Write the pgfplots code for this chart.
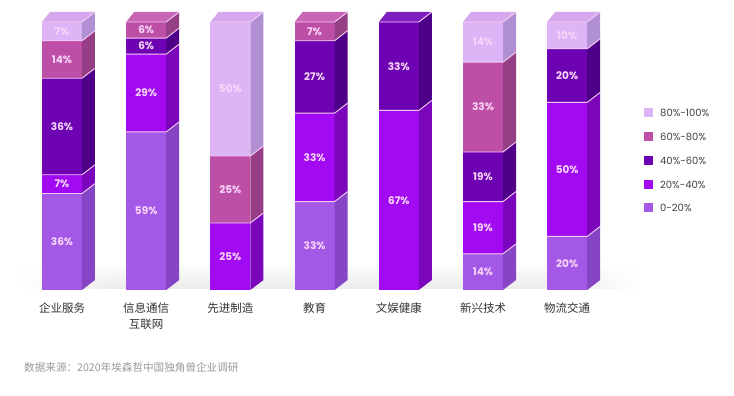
\documentclass[border=0pt]{standalone}
\usepackage{fontspec}
\setmainfont{Poppins}
\newfontfamily\cjk{Noto Sans CJK SC}
\usepackage{pgfplots}
\pgfplotsset{compat=1.18}
\usetikzlibrary{fadings}
\definecolor{F1}{HTML}{A458E6}\definecolor{S1}{HTML}{8645C4}\definecolor{T1}{HTML}{B77AEE}
\definecolor{F2}{HTML}{A10AF2}\definecolor{S2}{HTML}{7B05BA}\definecolor{T2}{HTML}{B540F5}
\definecolor{F3}{HTML}{6E03B3}\definecolor{S3}{HTML}{4F0088}\definecolor{T3}{HTML}{7F1EC0}
\definecolor{F4}{HTML}{BE4FA6}\definecolor{S4}{HTML}{963F86}\definecolor{T4}{HTML}{C865B4}
\definecolor{F5}{HTML}{DDB4F6}\definecolor{S5}{HTML}{B08FD2}\definecolor{T5}{HTML}{D6A8EE}
\definecolor{sepc}{HTML}{F6CDF2}
\definecolor{labc}{HTML}{F8D6F8}
\tikzset{
  lab/.style={font=\bfseries\fontsize{10.5}{11}\selectfont, text=labc, inner sep=0pt},
  catlab/.style={anchor=north, yshift=-13pt, font=\cjk\fontsize{11.5}{16}\selectfont, text=black!80, align=center, inner sep=0pt},
}
\def\hw{0.2375}
\def\dx{0.1544}
\def\dxl{0.095}
\def\dy{3.73}
% segment: center, y0, y1, label, colour key
\newcommand\seg[5]{%
  \pgfmathsetmacro\xl{#1-\hw}%
  \pgfmathsetmacro\xr{#1+\hw}%
  \pgfmathsetmacro\xb{#1+\hw+\dx}%
  \pgfmathsetmacro\ya{#2+\dy}%
  \pgfmathsetmacro\yb{#3+\dy}%
  \pgfmathsetmacro\ym{(#2+#3)/2}%
  \edef\tmp{%
    \noexpand\addplot[fill=F#5, draw=none] coordinates {(\xl,#2) (\xr,#2) (\xr,#3) (\xl,#3)} -- cycle;
    \noexpand\addplot[fill=S#5, draw=none] coordinates {(\xr,#2) (\xb,\ya) (\xb,\yb) (\xr,#3)} -- cycle;
    \noexpand\node[lab] at (axis cs:#1,\ym) {#4\noexpand\%};
  }\tmp}
% top cap: center, top, colour key
\newcommand\capp[3]{%
  \pgfmathsetmacro\xl{#1-\hw}%
  \pgfmathsetmacro\xr{#1+\hw}%
  \pgfmathsetmacro\xb{#1+\hw+\dx}%
  \pgfmathsetmacro\xc{#1-\hw+\dxl}%
  \pgfmathsetmacro\ya{#2+\dy}%
  \edef\tmp{%
    \noexpand\addplot[fill=T#3, draw=none] coordinates {(\xl,#2) (\xr,#2) (\xb,\ya) (\xc,\ya)} -- cycle;
  }\tmp}
% separator line: center, y
\newcommand\sepl[2]{%
  \pgfmathsetmacro\xl{#1-\hw}%
  \pgfmathsetmacro\xr{#1+\hw}%
  \pgfmathsetmacro\xb{#1+\hw+\dx}%
  \pgfmathsetmacro\ya{#2+\dy}%
  \edef\tmp{%
    \noexpand\addplot[sepc, line width=0.9pt] coordinates {(\xl,#2) (\xr,#2) (\xb,\ya)};
  }\tmp}
\begin{document}
\begin{tikzpicture}[x=1pt,y=1pt]
\fill[white] (0,0) rectangle (734,396);
\useasboundingbox (0,0) rectangle (734,396);
\shade[top color=white, bottom color=black!8, path fading=west] (18,107) rectangle (120,134);
\shade[top color=white, bottom color=black!8] (120,107) rectangle (560,134);
\shade[top color=white, bottom color=black!8, path fading=east] (560,107) rectangle (640,134);
\begin{axis}[
  at={(19.9pt,106pt)}, anchor=south west,
  scale only axis, width=673.6pt, height=294.8pt,
  xmin=-0.5, xmax=7.5, ymin=0, ymax=110,
  hide axis, clip=false,
]
% 企业服务
\seg{0}{0}{36}{36}{1}
\seg{0}{36}{43}{7}{2}
\seg{0}{43}{79}{36}{3}
\seg{0}{79}{93}{14}{4}
\seg{0}{93}{100}{7}{5}
\capp{0}{100}{5}
\sepl{0}{36}\sepl{0}{43}\sepl{0}{79}\sepl{0}{93}\sepl{0}{100}
% 信息通信互联网
\seg{1}{0}{59}{59}{1}
\seg{1}{59}{88}{29}{2}
\seg{1}{88}{94}{6}{3}
\seg{1}{94}{100}{6}{4}
\capp{1}{100}{4}
\sepl{1}{59}\sepl{1}{88}\sepl{1}{94}\sepl{1}{100}
% 先进制造
\seg{2}{0}{25}{25}{2}
\seg{2}{25}{50}{25}{4}
\seg{2}{50}{100}{50}{5}
\capp{2}{100}{5}
\sepl{2}{25}\sepl{2}{50}\sepl{2}{100}
% 教育
\seg{3}{0}{33}{33}{1}
\seg{3}{33}{66}{33}{2}
\seg{3}{66}{93}{27}{3}
\seg{3}{93}{100}{7}{4}
\capp{3}{100}{4}
\sepl{3}{33}\sepl{3}{66}\sepl{3}{93}\sepl{3}{100}
% 文娱健康
\seg{4}{0}{67}{67}{2}
\seg{4}{67}{100}{33}{3}
\capp{4}{100}{3}
\sepl{4}{67}\sepl{4}{100}
% 新兴技术
\seg{5}{0}{13.5}{14}{1}
\seg{5}{13.5}{33}{19}{2}
\seg{5}{33}{51.5}{19}{3}
\seg{5}{51.5}{85}{33}{4}
\seg{5}{85}{100}{14}{5}
\capp{5}{100}{5}
\sepl{5}{13.5}\sepl{5}{33}\sepl{5}{51.5}\sepl{5}{85}\sepl{5}{100}
% 物流交通
\seg{6}{0}{20}{20}{1}
\seg{6}{20}{70}{50}{2}
\seg{6}{70}{90}{20}{3}
\seg{6}{90}{100}{10}{5}
\capp{6}{100}{5}
\sepl{6}{20}\sepl{6}{70}\sepl{6}{90}\sepl{6}{100}
% category labels
\node[catlab] at (axis cs:0,0) {企业服务};
\node[catlab] at (axis cs:1,0) {信息通信\\互联网};
\node[catlab] at (axis cs:2,0) {先进制造};
\node[catlab] at (axis cs:3,0) {教育};
\node[catlab] at (axis cs:4,0) {文娱健康};
\node[catlab] at (axis cs:5,0) {新兴技术};
\node[catlab] at (axis cs:6,0) {物流交通};
\end{axis}
% legend
\begin{scope}[every node/.style={anchor=west, inner sep=0pt, text=black!75, font=\fontsize{10}{11}\selectfont}]
\fill[F5] (644,278.5) rectangle ++(9,9); \node at (660,283) {80\%-100\%};
\fill[F4] (644,254.5) rectangle ++(9,9); \node at (660,259) {60\%-80\%};
\fill[F3] (644,230.5) rectangle ++(9,9); \node at (660,235) {40\%-60\%};
\fill[F2] (644,206.5) rectangle ++(9,9); \node at (660,211) {20\%-40\%};
\fill[F1] (644,183.5) rectangle ++(9,9); \node at (660,188) {0-20\%};
\end{scope}
\node[anchor=west, inner sep=0pt, text=black!40, font=\cjk\fontsize{10.6}{12}\selectfont] at (24,28.3) {数据来源：2020年埃森哲中国独角兽企业调研};
\end{tikzpicture}
\end{document}
